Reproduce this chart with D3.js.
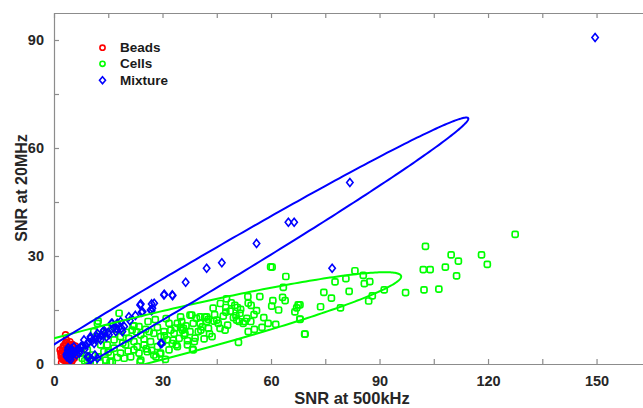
<!DOCTYPE html>
<html><head><meta charset="utf-8">
<script src="https://cdn.jsdelivr.net/npm/d3@7"></script>
<style>
html,body{margin:0;padding:0;background:#fff;}
svg{display:block;font-family:"Liberation Sans",Arial,Helvetica,sans-serif;}
</style></head><body>
<script>
// ---------- data ----------
const seriesNames = ["Beads", "Cells", "Mixture"];
const xTicks = [0, 15, 30, 45, 60, 75, 90, 105, 120, 135, 150, 165];
const yTicks = [0, 15, 30, 45, 60, 75, 90];
const xLabels = [0, 30, 60, 90, 120, 150];
const yLabels = [0, 30, 60, 90];

const beadsX = [3.2,2.1,4.4,5.8,1.7,2.5,3.0,3.5,4.0,4.5,5.0,5.5,2.8,3.3,3.8,4.3,4.8,5.3,2.2,2.6,3.1,3.6,4.1,4.6,5.1,5.6,2.4,2.9,3.4,3.9,4.4,4.9,5.4,3.0,3.7,4.2,4.7,2.0,6.0,3.5,2.3,5.9,1.9,4.9];
const beadsY = [8.1,0.4,0.1,3.9,3.9,1.2,2.0,1.5,0.8,1.8,1.0,2.5,3.3,4.2,2.8,5.1,3.6,4.6,2.7,5.0,5.6,3.1,4.4,2.2,5.4,1.6,4.3,1.0,6.0,3.8,6.2,2.9,4.8,3.4,0.6,3.0,4.0,2.0,2.6,6.6,1.5,5.0,3.0,0.7];

const cellsX = [127.5,102.7,109.8,111.8,118.2,119.8,102.1,104.0,108.2,111.3,102.3,106.4,
 83.2,85.5,77.7,80.7,85.8,87.3,74.6,81.6,76.7,91.3,97.2,88.0,87.0,73.7,79.2,68.0,68.0,69.4,59.9,64.1,60.3,
 63.4,47.7,53.6,56.9,63.2,60.5,63.9,53.7,54.5,60.2,50.0,50.7,67.5,67.1,62.1,47.5,47.5,48.7,51.6,51.4,55.3,66.6,44.4,
 49.6,50.5,51.2,52.3,54.4,59.2,61.3,68.0,37.6,41.7,42.2,44.2,45.9,47.3,53.7,55.4,43.7,51.0,69.3,38.3,36.9,36.9,
 35.3,35.8,39.4,40.4,39.9,40.6,42.7,37.6,38.5,42.2,36.2,53.3,52.8,50.3,46.8,45.4,40.4,35.0,
 12.0,18.0,22.1,21.6,23.5,25.3,31.8,34.1,35.0,28.6,27.6,30.4,33.2,34.6,31.3,26.7,28.6,24.9,22.1,20.7,19.8,23.0,
 25.8,27.6,23.5,21.2,18.4,16.6,14.7,12.9,10.6,12.4,14.3,16.1,7.8,7.4,9.2,24.0,31.8,29.5,34.1,18.4,16.6,24.0,26.3,
 29.5,32.3,35.5,32.7,22.1,24.9,13.8,15.7,19.4,9.2,12.2,21.9,38.1,42.7,38.5,23.8,29.3,12.7,15.5,
 20.0,26.0,30.0,33.5,28.0,31.0,36.5,39.0,41.0,43.0,45.0,48.0,56.0,58.0,57.5,44.0,46.0,49.0,17.0,19.0,27.0,30.5,33.8,
 11.0,13.5,15.0,17.5,20.5,22.8,25.5,28.2,30.8,33.0,36.0,38.8,41.5,14.5,8.5,10.0];
const cellsY = [36.0,32.7,30.3,28.6,30.3,27.7,26.2,26.2,26.9,24.5,20.6,20.8,
 25.9,24.6,22.8,23.7,22.3,22.9,19.9,20.2,18.3,20.6,19.8,18.9,17.5,15.9,15.6,16.4,12.4,8.3,27.0,24.3,26.9,
 21.3,18.1,18.7,18.7,18.5,17.6,17.6,16.9,16.3,16.1,16.3,15.7,16.4,15.6,15.0,15.7,14.4,14.7,15.2,14.1,13.7,14.5,13.7,
 12.9,12.2,11.8,11.3,11.8,11.3,11.0,12.5,13.6,13.0,11.8,11.9,9.9,9.4,9.0,9.6,7.6,6.0,8.3,4.1,6.5,5.3,
 11.8,9.9,12.7,11.3,9.0,9.4,9.9,9.0,11.3,13.1,8.5,12.7,11.8,13.4,13.3,11.3,13.1,13.1,
 11.3,14.1,10.6,9.4,10.4,9.6,11.3,11.3,10.2,10.2,8.5,9.0,8.5,7.1,6.7,6.2,4.8,6.9,6.2,7.1,5.3,4.8,
 3.4,2.5,3.0,2.0,3.0,4.4,5.3,5.3,2.5,2.0,1.1,0.6,1.6,3.0,3.9,1.1,3.9,3.0,4.8,7.6,6.7,8.1,9.0,
 7.6,9.4,9.4,5.7,3.9,5.3,3.4,2.5,1.6,1.1,11.9,10.6,13.6,12.4,3.9,0.6,2.8,0.4,0.6,
 8.8,11.8,6.0,10.0,12.3,12.6,10.6,7.2,10.3,8.4,12.2,10.8,14.8,12.9,10.2,15.5,16.8,17.0,9.6,5.8,3.8,7.8,5.3,
 9.0,7.9,3.3,1.8,3.6,8.9,4.2,2.0,1.3,6.6,8.0,6.2,7.0,10.0,0.9,0.7];

const mixX = [149.6,81.8,64.8,66.4,56.0,46.4,42.2,76.9,36.4,30.5,32.8,24.0,27.7,24.5,26.7,29.8,18.7,15.9,13.6,11.8,9.7,11.3,17.3,10.0,7.7,
 23.8,27.0,27.0,30.4,32.7,24.2,27.2,20.7,18.4,16.1,17.5,19.4,13.8,12.0,10.1,9.2,7.4,6.4,5.5,11.1,12.9,15.2,17.1,18.9,9.2,10.1,12.0,29.5,8.3,5.5,
 3.5,4.0,4.5,3.8,4.2,5.0,4.8,3.6,4.4,5.2,3.9,4.6,5.5,4.1,3.4,6.0,6.8,7.2,8.0,8.8,9.6,10.5,11.5,12.5,13.0,14.0,15.0,16.5,7.0,8.5,6.2,14.5,21.0,22.5];
const mixY = [90.7,50.4,39.4,39.4,33.5,28.1,26.6,26.6,22.7,19.4,19.0,16.7,16.9,14.5,15.0,5.7,9.9,11.3,9.0,7.6,2.0,2.5,9.9,7.1,4.8,
 16.4,16.7,14.8,19.2,19.2,14.4,15.5,13.1,11.8,11.3,11.3,10.4,9.4,8.5,7.6,5.7,4.8,3.9,3.0,5.7,6.7,8.1,9.0,9.0,2.0,1.1,1.6,5.7,6.7,4.8,
 2.0,2.8,3.5,3.8,1.5,2.5,4.2,3.0,2.2,3.6,4.5,1.2,3.0,3.3,2.6,3.5,4.2,3.8,5.0,5.2,6.0,6.4,6.8,7.2,8.0,8.5,8.8,10.0,3.0,4.2,2.6,7.5,12.0,13.5];

// confidence ellipses (data units): centre, semi-axes, rotation in degrees
const ellCx = [3.9, 20.0, 30.0];
const ellCy = [3.2, 5.5, 17.9];
const ellA = [2.9, 78.3, 98.4];
const ellB = [2.45, 6.6, 4.9];
const ellAngle = [90, 14.0, 30.8];

// ---------- chart ----------
const W = 643, H = 408;
const colors = ["#ff0000", "#00ff00", "#0000ff"];
const svg = d3.select("body").append("svg").attr("width", W).attr("height", H);

const x = d3.scaleLinear().domain([0, 165]).range([54, 650.8]);
const y = d3.scaleLinear().domain([0, 97.5]).range([364, 13]);

svg.append("defs").append("clipPath").attr("id", "clip")
  .append("rect").attr("x", 54).attr("y", 13).attr("width", 650.8 - 54).attr("height", 364 - 13);

const axisColor = "#8c8c8c";
const fmtX = d => xLabels.includes(d) ? d : "";
const fmtY = d => yLabels.includes(d) ? d : "";

function styleAxis(g) {
  g.select(".domain").attr("stroke", axisColor).attr("stroke-width", 1.2);
  g.selectAll(".tick line").attr("stroke", axisColor).attr("stroke-width", 1.2);
  g.selectAll(".tick text").attr("fill", "#262626").attr("font-size", 14.5).attr("font-weight", "bold");
}
const gx = svg.append("g").attr("transform", "translate(0,364)")
  .call(d3.axisBottom(x).tickValues(xTicks).tickFormat(fmtX).tickSizeInner(-5).tickSizeOuter(0).tickPadding(12));
styleAxis(gx);
const gxt = svg.append("g").attr("transform", "translate(0,13)")
  .call(d3.axisTop(x).tickValues(xTicks).tickFormat("").tickSizeInner(-5).tickSizeOuter(0));
styleAxis(gxt);
const gy = svg.append("g").attr("transform", "translate(54,0)")
  .call(d3.axisLeft(y).tickValues(yTicks).tickFormat(fmtY).tickSizeInner(-5).tickSizeOuter(0).tickPadding(10));
styleAxis(gy);

svg.append("text").attr("x", 352).attr("y", 404).attr("text-anchor", "middle")
  .attr("font-size", 16.5).attr("font-weight", "bold").attr("fill", "#262626").text("SNR at 500kHz");
svg.append("text").attr("transform", "translate(27,188) rotate(-90)").attr("text-anchor", "middle")
  .attr("font-size", 16).attr("font-weight", "bold").attr("fill", "#262626").text("SNR at 20MHz");

const plot = svg.append("g").attr("clip-path", "url(#clip)");

function drawMarkers(g, xs, ys, kind, color) {
  const pts = xs.map((v, i) => [x(v), y(ys[i])]);
  if (kind === "circle") {
    g.selectAll(null).data(pts).enter().append("circle")
      .attr("cx", d => d[0]).attr("cy", d => d[1]).attr("r", 3)
      .attr("fill", "none").attr("stroke", color).attr("stroke-width", 1.6);
  } else if (kind === "square") {
    g.selectAll(null).data(pts).enter().append("rect")
      .attr("x", d => d[0] - 3).attr("y", d => d[1] - 3).attr("width", 6).attr("height", 6)
      .attr("rx", 1.6).attr("fill", "none").attr("stroke", color).attr("stroke-width", 1.7);
  } else {
    g.selectAll(null).data(pts).enter().append("path")
      .attr("d", d => `M${d[0]},${d[1]-4}L${d[0]+3.2},${d[1]}L${d[0]},${d[1]+4}L${d[0]-3.2},${d[1]}Z`)
      .attr("fill", "none").attr("stroke", color).attr("stroke-width", 1.6);
  }
}

function ellipsePath(i) {
  const th = ellAngle[i] * Math.PI / 180;
  const ux = Math.cos(th), uy = Math.sin(th);
  const vx = -uy, vy = ux;
  const pts = d3.range(0, 361, 1).map(t => {
    const r = t * Math.PI / 180;
    const px = ellCx[i] + ellA[i] * Math.cos(r) * ux + ellB[i] * Math.sin(r) * vx;
    const py = ellCy[i] + ellA[i] * Math.cos(r) * uy + ellB[i] * Math.sin(r) * vy;
    return [x(px), y(py)];
  });
  return d3.line()(pts) + "Z";
}
function drawEllipse(i) {
  plot.append("path").attr("d", ellipsePath(i)).attr("fill", "none")
    .attr("stroke", colors[i]).attr("stroke-width", 2);
}

drawMarkers(plot.append("g"), beadsX, beadsY, "circle", colors[0]);
drawEllipse(0);
drawMarkers(plot.append("g"), cellsX, cellsY, "square", colors[1]);
drawMarkers(plot.append("g"), mixX, mixY, "diamond", colors[2]);
drawEllipse(1);
drawEllipse(2);

// legend
const leg = svg.append("g");
const legY = [47.7, 63.8, 80.2];
seriesNames.forEach((name, i) => {
  const cx = 102.5, cy = legY[i];
  if (i < 2) {
    leg.append("circle").attr("cx", cx).attr("cy", cy).attr("r", 2.6)
      .attr("fill", "none").attr("stroke", colors[i]).attr("stroke-width", 1.6);
  } else {
    leg.append("path").attr("d", `M${cx},${cy-3.5}L${cx+3},${cy}L${cx},${cy+3.5}L${cx-3},${cy}Z`)
      .attr("fill", "none").attr("stroke", colors[i]).attr("stroke-width", 1.6);
  }
  leg.append("text").attr("x", 120).attr("y", cy + 4.6).attr("font-size", 13.5)
    .attr("font-weight", "bold").attr("fill", "#1a1a1a").text(name);
});
</script>
</body></html>
